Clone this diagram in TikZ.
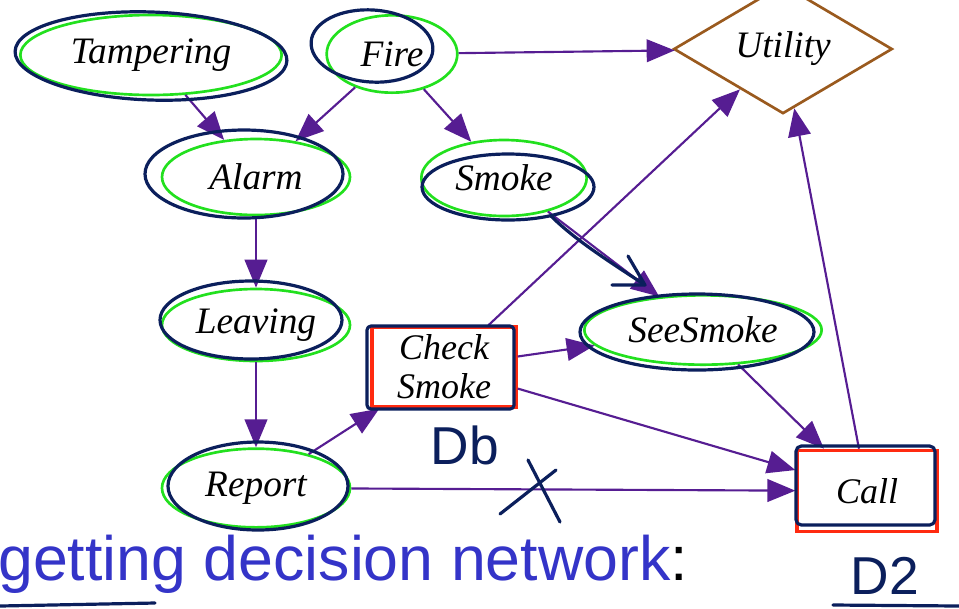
\documentclass[tikz,border=0pt]{standalone}
\usepackage{fontspec}
\setmainfont{Liberation Serif}
\newfontfamily\titlefont{Liberation Sans}
\usetikzlibrary{shapes.geometric,arrows.meta,calc}

\definecolor{linkpurple}{HTML}{561D92}
\definecolor{chancegreen}{HTML}{22E01E}
\definecolor{decisionred}{HTML}{FF2A10}
\definecolor{utilbrown}{HTML}{9A5A1E}
\definecolor{inknavy}{HTML}{0B1F5C}
\definecolor{titleblue}{HTML}{3434C8}

\tikzset{
  chance/.style={ellipse, draw=chancegreen, line width=2pt, inner sep=0pt,
    font=\fontsize{28}{30}\selectfont\itshape},
  decision/.style={rectangle, draw=decisionred, line width=2.5pt, inner sep=0pt,
    align=center, font=\fontsize{27}{29}\selectfont\itshape},
  utilnode/.style={diamond, draw=utilbrown, line width=2pt, inner sep=0pt,
    font=\fontsize{28}{30}\selectfont\itshape},
  link/.style={draw=linkpurple, line width=1.6pt,
    -{Triangle[length=21pt,width=17pt]}},
  ink/.style={draw=inknavy, line width=2.4pt, line cap=round, line join=round},
  inktext/.style={text=inknavy, font=\titlefont\fontsize{40}{40}\selectfont}
}

\begin{document}
\begin{tikzpicture}[x=0.75pt,y=-0.75pt]
\useasboundingbox (0,0) rectangle (959,608);

% nodes
\node[chance, minimum width=196pt, minimum height=60pt] (tamp) at (151,55) {Tampering};
\node[chance, minimum width=98pt, minimum height=58pt] (fire) at (392,54) {Fire};
\node[chance, minimum width=141pt, minimum height=57pt] (alarm) at (256,177) {Alarm};
\node[chance, minimum width=124pt, minimum height=57pt] (smoke) at (504,178) {Smoke};
\node[chance, minimum width=141pt, minimum height=54pt] (leave) at (256,325) {Leaving};
\node[chance, minimum width=178pt, minimum height=52pt] (see) at (703,330) {SeeSmoke};
\node[chance, minimum width=141pt, minimum height=59pt] (report) at (256,488) {Report};
\node[decision, minimum width=108pt, minimum height=60pt] (check) at (444,367) {Check\\Smoke};
\node[decision, minimum width=105pt, minimum height=61pt] (call) at (867,491) {Call};
\node[utilnode, minimum width=164pt, minimum height=65pt] (util) at (783,49) {Utility};

% arcs
\draw[link] (tamp) -- (alarm);
\draw[link] (fire) -- (alarm);
\draw[link] (fire) -- (smoke);
\draw[link] (fire) -- (util);
\draw[link] (alarm) -- (leave);
\draw[link] (leave) -- (report);
\draw[link] (report) -- (check);
\draw[link] (report) -- (call);
\draw[link] (smoke) -- (see);
\draw[link] (check) -- (see);
\draw[link] (check) -- (util);
\draw[link] (check) -- (call);
\draw[link] (see) -- (call);
\draw[link] (call) -- (util);

% title
\node[anchor=base west, inner sep=0pt, font=\titlefont\fontsize{47}{47}\selectfont]
  (title) at (-2,580) {\textcolor{titleblue}{getting decision network}:};

% ink annotations
\draw[ink] (151,56) ellipse [x radius=136, y radius=44, rotate=-2];
\draw[ink] (372,46) ellipse [x radius=61, y radius=36, rotate=-4];
\draw[ink] (244,174) ellipse [x radius=99, y radius=44];
\draw[ink] (508,187) ellipse [x radius=86, y radius=33];
\draw[ink] (251,320) ellipse [x radius=91, y radius=39];
\draw[ink] (697,332) ellipse [x radius=117, y radius=38];
\draw[ink] (258,486) ellipse [x radius=90, y radius=44];
\draw[ink, rounded corners=3pt] (367,326) rectangle (514,409);
\draw[ink, rounded corners=4pt] (796,446) rectangle (935,525);
\draw[ink] (551,216) .. controls (575,240) and (610,262) .. (645,285);
\draw[ink] (628,256) -- (645,285) -- (612,285);
\node[inktext, anchor=base west] (db) at (426,464) {Db};
\node[inktext, anchor=base west] (dtwo) at (846,594) {D2};
\draw[ink] (500,514) -- (556,470);
\draw[ink] (528,460) -- (560,522);
\draw[ink] (0,606) -- (155,603);
\draw[ink] (833,605) -- (959,606);
\end{tikzpicture}
\end{document}
